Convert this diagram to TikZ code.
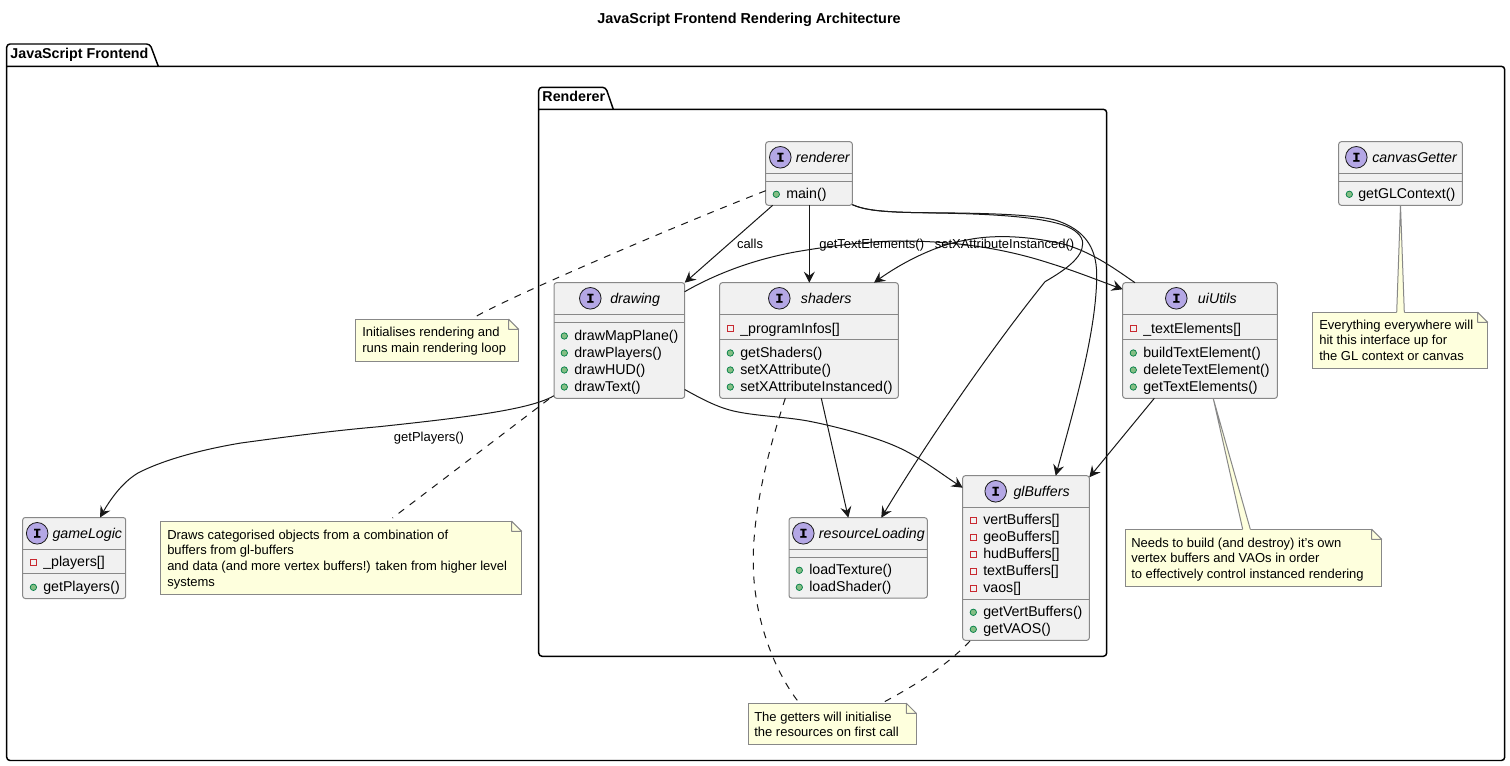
\documentclass[tikz,border=0pt]{standalone}
\usepackage{fontspec}
\setmainfont{Liberation Sans}
\newfontfamily\ifacefont{Liberation Mono}[BoldFeatures={FakeBold=1.2}]
\usetikzlibrary{arrows.meta,calc}
\definecolor{boxfill}{HTML}{F1F1F1}
\definecolor{boxline}{HTML}{888888}
\definecolor{ink}{HTML}{181818}
\definecolor{ifacefill}{HTML}{B4A7E5}
\definecolor{pubfill}{HTML}{84BE84}
\definecolor{publine}{HTML}{038048}
\definecolor{privline}{HTML}{C82930}
\definecolor{notefill}{HTML}{FEFFDD}
\def\pxu{0.75pt}
\newcounter{nn}
\tikzset{
  classbox/.style={rectangle,draw=boxline,fill=boxfill,line width=0.75pt,rounded corners=1.9pt,inner sep=0pt,outer sep=0pt},
  sepline/.style={draw=boxline,line width=0.75pt},
  ifacecircle/.style={circle,draw=ink,fill=ifacefill,line width=0.6pt,minimum size=16.2pt,inner sep=0pt,font=\ifacefont\bfseries\fontsize{10pt}{10pt}\selectfont},
  classtitle/.style={anchor=base west,inner sep=0pt,font=\itshape\fontsize{10.65pt}{10.65pt}\selectfont,text=black},
  memb/.style={anchor=base west,inner sep=0pt,font=\fontsize{10.65pt}{10.65pt}\selectfont,text=black},
  pubdot/.style={circle,draw=publine,fill=pubfill,line width=0.55pt,minimum size=4.8pt,inner sep=0pt},
  privsq/.style={rectangle,draw=privline,fill=boxfill,line width=0.55pt,minimum size=4.6pt,inner sep=0pt},
  notebox/.style={rectangle,draw=boxline,fill=notefill,line width=0.75pt,inner sep=0pt,outer sep=0pt},
  notetext/.style={anchor=base west,inner sep=0pt,font=\fontsize{9.75pt}{9.75pt}\selectfont,text=black},
  edgelab/.style={anchor=base,inner sep=0pt,font=\fontsize{9.75pt}{9.75pt}\selectfont,text=black},
  pkg/.style={draw=black,line width=1.1pt,rounded corners=2.5pt,fill=white,line cap=round},
  pkglab/.style={anchor=base west,inner sep=0pt,font=\bfseries\fontsize{10.7pt}{10.7pt}\selectfont,text=black},
  arr/.style={draw=ink,line width=0.75pt,-{Stealth[length=8.25pt,width=8.25pt,inset=3pt]}},
  dashlink/.style={draw=ink,line width=0.75pt,dash pattern=on 5.25pt off 5.25pt},
}
\newcommand\cbox[5]{\node[classbox,minimum width={(#4-#2)*\pxu},minimum height={(#5-#3)*\pxu}] (#1) at ({(#2+#4)/2},{(#3+#5)/2}) {};}
\newcommand\chead[4]{\stepcounter{nn}\node[ifacecircle] (c\thenn) at (#1,#2) {I};\node[classtitle] (t\thenn) at ({#3},{#2+5}) {#4};}
\newcommand\csep[2]{\draw[sepline] (#1.west |- 0,#2) -- (#1.east |- 0,#2);}
\newcommand\pubm[4]{\stepcounter{nn}\node[pubdot] (d\thenn) at (#1,#2) {};\node[memb] (m\thenn) at ({#3},{#2+4.5}) {#4};}
\newcommand\privm[4]{\stepcounter{nn}\node[privsq] (d\thenn) at (#1,#2) {};\node[memb] (m\thenn) at ({#3},{#2+4.5}) {#4};}
\newcommand\nbox[5]{\node[notebox,minimum width={(#4-#2)*\pxu},minimum height={(#5-#3)*\pxu}] (#1) at ({(#2+#4)/2},{(#3+#5)/2}) {};
  \fill[white] ($(#1.north east)+(-10,-0.5)$) -- ($(#1.north east)+(0.5,-0.5)$) -- ($(#1.north east)+(0.5,10)$) -- cycle;
  \draw[sepline,fill=notefill,line join=round] ($(#1.north east)+(-10,0)$) -- ($(#1.north east)+(0,10)$) -- ($(#1.north east)+(-10,10)$) -- cycle;
  \draw[sepline] ($(#1.north east)+(-10,0)$) -- ($(#1.north west)$);
  \draw[sepline] ($(#1.north east)+(0,10)$) -- ($(#1.south east)$);}
\newcommand\ntxt[3]{\stepcounter{nn}\node[notetext] (n\thenn) at (#1,#2) {#3};}
\begin{document}
\begin{tikzpicture}[x=0.75pt,y=-0.75pt]
\useasboundingbox[fill=white] (0,0) rectangle (1510,766);
\node[anchor=base,inner sep=0pt,font=\bfseries\fontsize{10.8pt}{10.8pt}\selectfont] (diagramtitle) at (749,23.5) {JavaScript Frontend Rendering Architecture};
% packages
\draw[pkg] (6.7,66.3) -- (1504.7,66.3) -- (1504.7,760.5) -- (6.7,760.5) -- (6.7,66.3);
\draw[pkg,fill=none] (6.7,66.3) -- (6.7,44) -- (150,44) -- (158.3,66.3);
\node[pkglab] (pkgfront) at (10.2,59) {JavaScript Frontend};
\draw[pkg] (538.7,109.3) -- (1106.7,109.3) -- (1106.7,656.3) -- (538.7,656.3) -- (538.7,109.3);
\draw[pkg,fill=none] (538.7,109.3) -- (538.7,87.3) -- (605.7,87.3) -- (613.3,109.3);
\node[pkglab] (pkgrend) at (542.2,102) {Renderer};
% notes
\nbox{nInit}{355.3}{319.3}{518.7}{361.7}
\ntxt{362}{337}{Initialises rendering and}
\ntxt{362}{353}{runs main rendering loop}
\nbox{nDraws}{160.5}{521.3}{521.7}{594.3}
\ntxt{167}{539}{Draws categorised objects from a combination of}
\ntxt{167}{554}{buffers from gl-buffers}
\ntxt{167}{570}{and data (and more vertex buffers!) taken from higher level}
\ntxt{167}{586}{systems}
\nbox{nGet}{748.3}{703.3}{916.3}{744.3}
\ntxt{754}{721}{The getters will initialise}
\ntxt{754}{736}{the resources on first call}
\nbox{nCanvas}{1312.7}{312.3}{1487.7}{368.3}
\ntxt{1319}{329.5}{Everything everywhere will}
\ntxt{1319}{345}{hit this interface up for}
\ntxt{1319}{360.5}{the GL context or canvas}
\nbox{nBuild}{1125.6}{529.3}{1381.7}{586.3}
\ntxt{1131}{547}{Needs to build (and destroy) it's own}
\ntxt{1131}{562}{vertex buffers and VAOs in order}
\ntxt{1131}{578}{to effectively control instanced rendering}
% classes
\cbox{renderer}{765.7}{141.7}{852.3}{205.3}
\chead{780.3}{157.3}{795.7}{renderer}
\csep{renderer}{173.3}\csep{renderer}{181.7}
\pubm{776.3}{194.3}{786}{main()}
\cbox{drawing}{554}{282.7}{684.7}{398.3}
\chead{590.3}{298.3}{610}{drawing}
\csep{drawing}{314.3}\csep{drawing}{322.3}
\pubm{564.3}{336}{574}{drawMapPlane()}
\pubm{564.3}{353}{574}{drawPlayers()}
\pubm{564.3}{370}{574}{drawHUD()}
\pubm{564.3}{387}{574}{drawText()}
\cbox{shaders}{719.7}{282.7}{898.3}{398.3}
\chead{779.3}{298.3}{800.7}{shaders}
\csep{shaders}{314.3}\csep{shaders}{339.7}
\privm{730.3}{328.7}{740}{\_programInfos[]}
\pubm{730.3}{353}{740}{getShaders()}
\pubm{730.3}{370}{740}{setXAttribute()}
\pubm{730.3}{387}{740}{setXAttributeInstanced()}
\cbox{uiUtils}{1122.7}{282.7}{1277.3}{398.3}
\chead{1176.3}{298.3}{1197.7}{uiUtils}
\csep{uiUtils}{314.3}\csep{uiUtils}{339.7}
\privm{1133.3}{328.7}{1143}{\_textElements[]}
\pubm{1133.3}{353}{1143}{buildTextElement()}
\pubm{1133.3}{370}{1143}{deleteTextElement()}
\pubm{1133.3}{387}{1143}{getTextElements()}
\cbox{canvasGetter}{1338.7}{141.7}{1462.3}{205.3}
\chead{1356.3}{157.3}{1372}{canvasGetter}
\csep{canvasGetter}{173.3}\csep{canvasGetter}{181.7}
\pubm{1349.3}{194.3}{1358}{getGLContext()}
\cbox{glBuffers}{962.7}{475.7}{1089.3}{640.3}
\chead{995.7}{491.3}{1013.3}{glBuffers}
\csep{glBuffers}{507.3}\csep{glBuffers}{599.3}
\privm{973.3}{520.3}{983}{vertBuffers[]}
\privm{973.3}{537.3}{983}{geoBuffers[]}
\privm{973.3}{554.3}{983}{hudBuffers[]}
\privm{973.3}{571.3}{983}{textBuffers[]}
\privm{973.3}{588.3}{983}{vaos[]}
\pubm{973.3}{612.3}{983}{getVertBuffers()}
\pubm{973.3}{629.3}{983}{getVAOS()}
\cbox{resourceLoading}{789}{517.7}{927.3}{598}
\chead{803.3}{533.3}{818.7}{resourceLoading}
\csep{resourceLoading}{549.3}\csep{resourceLoading}{557.3}
\pubm{799.3}{570.3}{809}{loadTexture()}
\pubm{799.3}{587.3}{809}{loadShader()}
\cbox{gameLogic}{22.7}{517.5}{125.7}{598.5}
\chead{37.2}{533.3}{52.3}{gameLogic}
\csep{gameLogic}{549.3}\csep{gameLogic}{573.3}
\privm{33.4}{562.3}{43}{\_players[]}
\pubm{33.4}{587.3}{43}{getPlayers()}
% note tails
\fill[notefill] ($(nCanvas.north west)+(84,0.6)$) -- (canvasGetter.south) -- ($(nCanvas.north west)+(91.6,0.6)$) -- cycle;
\draw[sepline] ($(nCanvas.north west)+(84,0)$) -- (canvasGetter.south) -- ($(nCanvas.north west)+(91.6,0)$);
\fill[notefill] ($(nBuild.north west)+(117.1,0.6)$) -- ($(uiUtils.south west)+(90.6,0.4)$) -- ($(nBuild.north west)+(124.7,0.6)$) -- cycle;
\draw[sepline] ($(nBuild.north west)+(117.1,0)$) -- ($(uiUtils.south west)+(90.6,0.4)$) -- ($(nBuild.north west)+(124.7,0)$);
% connectors
\draw[arr] ($(renderer.south west)+(7,0)$) -- (drawing.north east);
\draw[arr] ($(renderer.south west)+(43.6,0)$) -- ($(shaders.north west)+(89.6,0)$);
\draw[arr] ($(renderer.south east)+(0,-0.6)$) .. controls (865,210) and (880,212) .. (920,212.7) .. controls (960,213.5) and (1030,214) .. (1063,225) .. controls (1075,229) and (1082.7,236) .. (1082.7,243.3) .. controls (1082.7,258) and (1065,270) .. (1045,281.7) .. controls (990,350) and (925,445) .. ($(resourceLoading.north west)+(92.3,0)$);
\draw[arr] ($(renderer.south east)+(0,-0.6)$) .. controls (865,210) and (880,212) .. (920,212.7) .. controls (970,213) and (1040,213.5) .. (1060,221.7) .. controls (1082,230) and (1096.7,245) .. (1096.7,275) .. controls (1096.7,330) and (1075,405) .. ($(glBuffers.north west)+(93,0)$);
\draw[arr] ($(drawing.north east)+(0,9)$) .. controls (712,276) and (750,260) .. (796.7,251.7) .. controls (830,246) and (870,241) .. (900,241) .. controls (950,241) and (1000,247) .. (1050,263.3) .. controls (1075,271) and (1100,281) .. ($(uiUtils.north west)+(0,6.6)$);
\draw[arr] ($(uiUtils.north west)+(12.3,0)$) .. controls (1115,269) and (1095,254) .. (1066.7,245) .. controls (1040,238) and (1000,233) .. (966.7,240) .. controls (935,245) and (900,264) .. ($(shaders.north west)+(154.3,0)$);
\draw[arr] ($(drawing.south west)+(0,-2.6)$) .. controls (530,410) and (460,418) .. (379,426.7) .. controls (330,431) and (285,437) .. (241,443) .. controls (205,449) and (165,459) .. (138,473) .. controls (122,482.5) and (110,500) .. ($(gameLogic.north west)+(77.3,0)$);
\draw[arr] ($(drawing.south east)+(0,-8.8)$) .. controls (700,398) and (718,408) .. (736.7,411.7) .. controls (760,416.5) and (790,417) .. (813,422) .. controls (840,427.5) and (875,437) .. (896.7,446.7) .. controls (920,457) and (940,473) .. ($(glBuffers.north west)+(0,12)$);
\draw[arr] ($(shaders.south west)+(101.6,0)$) -- ($(resourceLoading.north west)+(59.3,0)$);
\draw[arr] ($(uiUtils.south west)+(31.6,0)$) -- ($(glBuffers.north east)+(0,1.6)$);
\draw[dashlink] ($(renderer.south west)+(0,-14.6)$) .. controls (690,220) and (520,292) .. ($(nInit.north west)+(121.4,-3.3)$);
\draw[dashlink] ($(drawing.south west)+(-5,0.7)$) -- ($(nDraws.north west)+(232,-3.3)$);
\draw[dashlink] ($(shaders.south west)+(65.6,0)$) .. controls (770,445) and (752,510) .. (753.3,566.7) .. controls (754.5,620) and (775,672) .. ($(nGet.north west)+(50,-1.6)$);
\draw[dashlink] ($(glBuffers.south west)+(7.3,0.7)$) .. controls (950,662) and (925,680) .. ($(nGet.north west)+(135.7,-1.3)$);
% labels
\node[edgelab] (lCalls) at (750,249) {calls};
\node[edgelab] (lText) at (871.7,249) {getTextElements()};
\node[edgelab] (lAttr) at (1004.5,249) {setXAttributeInstanced()};
\node[edgelab] (lPlayers) at (429,441) {getPlayers()};
\end{tikzpicture}
\end{document}
